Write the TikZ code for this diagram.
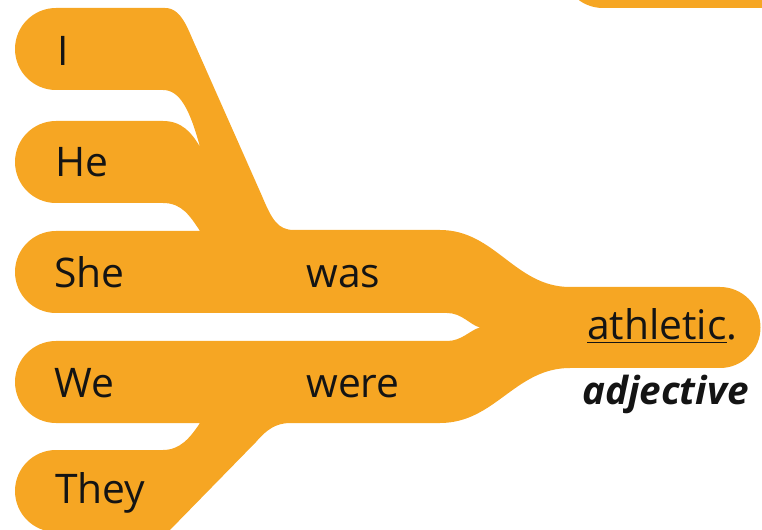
\documentclass[tikz,border=0pt]{standalone}
\usepackage{fontspec}
\setmainfont{Open Sans}
\definecolor{branchorange}{RGB}{246,166,35}

\begin{document}
\begin{tikzpicture}[x=0.025cm, y=-0.025cm, font=\fontsize{29}{35}\selectfont,
		word/.style={anchor=base west, inner sep=0pt, text=black!92}]
		
		\useasboundingbox (0,0) rectangle (762,530);
		\clip (0,0) rectangle (762,530);
		
		% --- Pedaço de outra faixa (canto superior direito)
		\fill[branchorange] (770,8) -- (603,8) arc[start angle=90, end angle=180, radius=41]
			-- (562,-40) -- (770,-40) -- cycle;
		
		% --- Faixas dos sujeitos juntando em "athletic"
		\fill[branchorange] (56,8) -- (165,8)
			.. controls (182,8) and (188,30) .. (196,47)
			-- (262,196)
			.. controls (272,220) and (278,230) .. (294,230)
			-- (440,230)
			.. controls (495,230) and (515,287) .. (570,287)
			-- (720,287) arc[start angle=-90, end angle=90, radius=40.5]
			-- (570,368)
			.. controls (515,368) and (495,423) .. (440,423)
			-- (290,423)
			.. controls (276,423) and (266,430) .. (256,442)
			-- (168,532) -- (56,532) arc[start angle=90, end angle=270, radius=41]
			-- (163,450)
			.. controls (180,450) and (190,438) .. (200,423)
			-- (56,423) arc[start angle=90, end angle=270, radius=41]
			-- (447,341)
			.. controls (462,341) and (470,330) .. (480,327.5)
			.. controls (470,325) and (462,313) .. (447,313)
			-- (56,313) arc[start angle=90, end angle=270, radius=41]
			-- (200,231)
			.. controls (190,216) and (182,203) .. (163,203)
			-- (56,203) arc[start angle=90, end angle=270, radius=41]
			-- (163,121)
			.. controls (182,121) and (192,133) .. (200,147)
			.. controls (190,110) and (180,90) .. (163,90)
			-- (56,90) arc[start angle=90, end angle=270, radius=41]
			-- cycle;
		
		% Sujeitos
		\node[word] (i) at (57,66) {I};
		\node[word] (he) at (55,177) {He};
		\node[word] (she) at (54,288) {She};
		\node[word] (we) at (54,398) {We};
		\node[word] (they) at (55,503) {They};
		
		% Verbos
		\node[word] (was) at (306,288) {was};
		\node[word] (were) at (306,398) {were};
		
		% Complemento
		\node[word] (athletic) at (587,340) {\underline{athletic}.};
		\node[word, font=\fontsize{27.5}{33}\selectfont] (adjective) at (582,404) {\textbf{\textit{adjective}}};
		
	\end{tikzpicture}
\end{document}
